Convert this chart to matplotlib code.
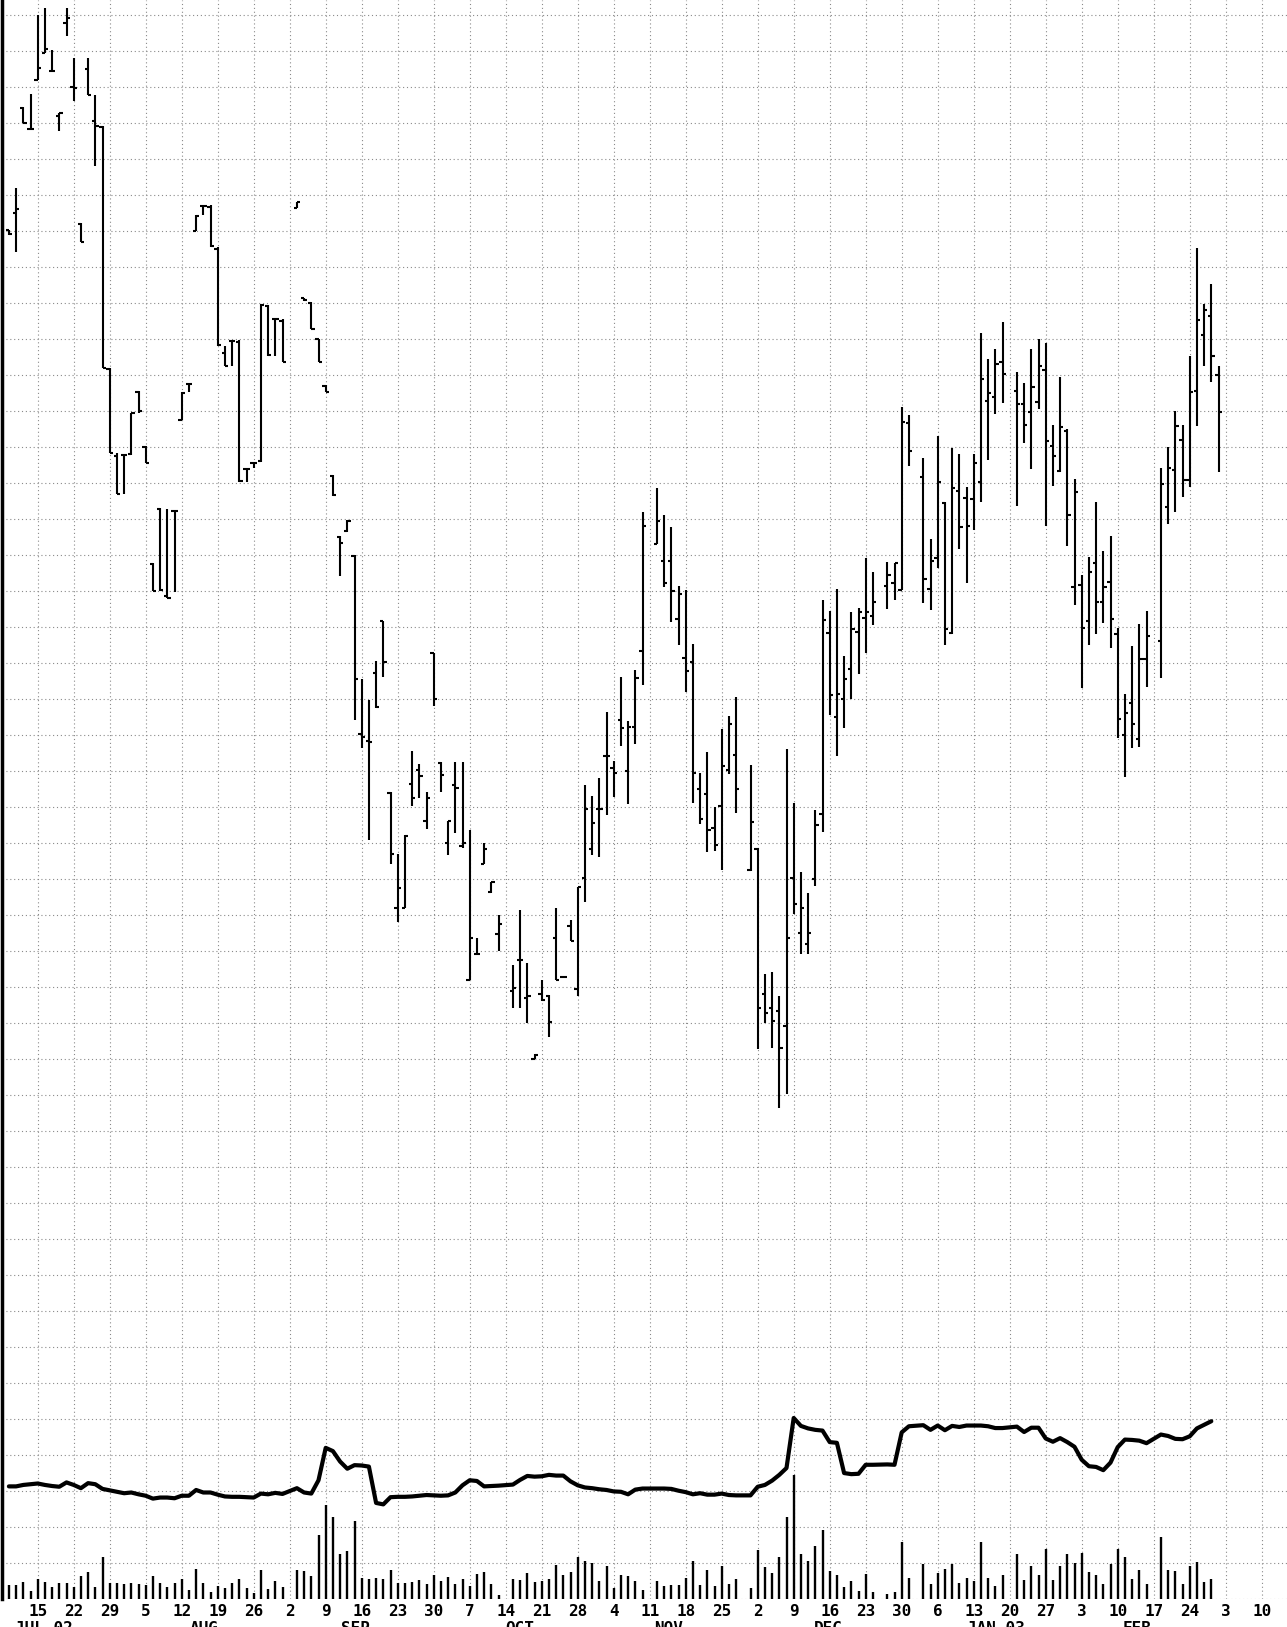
import numpy as np
import matplotlib
matplotlib.use('Agg')
import matplotlib.pyplot as plt

# daily bars, one slot per trading day from Tue 9 Jul 2002: (open, high, low, close)
# None = exchange holiday (no bar)
bars = [
    (38.02, 38.03, 37.89, 37.90), (38.49, 39.19, 37.41, 38.60), (41.40, 41.45, 40.99, 41.00),
    (40.83, 41.80, 40.80, 40.82), (42.20, 44.00, 42.19, 42.52), (42.95, 44.19, 42.94, 43.05),
    (42.45, 43.03, 42.44, 42.45), (41.20, 41.27, 40.78, 41.27), (43.77, 44.19, 43.42, 43.90),
    (41.99, 42.80, 41.59, 41.97), (38.20, 38.21, 37.68, 37.70), (42.49, 42.80, 41.76, 41.77),
    (41.06, 41.76, 39.81, 40.90), (40.88, 40.90, 34.20, 34.20), (34.15, 34.20, 31.82, 31.83),
    (31.75, 31.82, 30.69, 30.70), (31.76, 31.78, 30.69, 31.76), (31.80, 32.94, 31.78, 32.93),
    (33.52, 33.54, 32.94, 33.00), (32.00, 32.01, 31.55, 31.56), (28.75, 28.77, 27.99, 28.00),
    (30.27, 30.29, 28.00, 28.02), (27.85, 30.26, 27.79, 27.80), (30.22, 30.24, 27.97, 30.22),
    (32.75, 33.53, 32.74, 33.50), (33.75, 33.76, 33.53, 33.75), (38.00, 38.44, 37.99, 38.42),
    (38.70, 38.71, 38.44, 38.70), (38.65, 38.71, 37.56, 37.57), (37.50, 37.56, 34.81, 34.83),
    (34.60, 34.81, 34.24, 34.25), (34.95, 34.96, 34.24, 34.93), (34.90, 34.96, 31.03, 31.05),
    (31.38, 31.40, 31.03, 31.38), (31.56, 31.58, 31.40, 31.56), (31.60, 35.96, 31.58, 35.94),
    (35.90, 35.94, 34.52, 34.54), (35.55, 35.57, 34.52, 35.55), (35.50, 35.54, 34.34, 34.36),
    None,
    (38.63, 38.81, 38.62, 38.80), (36.12, 36.12, 36.06, 36.07), (36.00, 36.03, 35.27, 35.28),
    (34.98, 34.99, 34.34, 34.35), (33.70, 33.71, 33.51, 33.52), (31.20, 31.21, 30.63, 30.65),
    (29.50, 29.52, 28.41, 29.33), (29.65, 29.96, 29.64, 29.95), (28.97, 28.99, 24.41, 25.55),
    (24.01, 25.55, 23.63, 23.95), (23.83, 24.97, 21.08, 23.81), (25.72, 26.04, 24.74, 24.76),
    (27.15, 27.17, 25.60, 26.01), (22.38, 22.40, 20.40, 20.68), (19.18, 20.70, 18.80, 19.74),
    (19.20, 21.21, 19.18, 21.19), (22.64, 23.55, 22.03, 22.24), (23.03, 23.18, 22.24, 22.84),
    (21.59, 22.42, 21.39, 22.24), (26.26, 26.28, 24.81, 25.00), (23.21, 23.23, 22.40, 22.87),
    (21.00, 21.61, 20.65, 21.59), (22.60, 23.25, 21.26, 22.52), (20.90, 23.25, 20.85, 20.98),
    (17.20, 21.36, 17.18, 18.36), (17.90, 18.36, 17.89, 17.90), (20.42, 20.98, 20.40, 20.82),
    (19.62, 19.91, 19.61, 19.90), (18.46, 19.00, 17.99, 18.75),
    None,
    (16.89, 17.59, 16.40, 16.96), (17.75, 19.13, 16.40, 17.75), (16.69, 17.67, 16.00, 16.73),
    (15.00, 15.12, 15.00, 15.10), (16.81, 17.18, 16.61, 16.62), (16.74, 16.76, 15.60, 16.03),
    (18.36, 19.18, 17.18, 17.20), (17.28, 17.30, 17.24, 17.27), (18.69, 18.84, 18.26, 18.27),
    (16.93, 19.78, 16.73, 19.76), (20.01, 22.61, 19.35, 21.94), (20.82, 22.30, 20.65, 21.54),
    (21.94, 22.80, 20.61, 21.94), (23.42, 24.63, 21.77, 23.40), (23.07, 23.28, 22.26, 22.93),
    (24.42, 25.61, 23.70, 24.19), (22.99, 24.39, 22.07, 24.22), (24.22, 25.80, 23.74, 25.58),
    (26.33, 30.18, 25.37, 29.79),
    None,
    (29.30, 30.85, 29.29, 29.95), (28.83, 30.10, 28.11, 28.22), (28.83, 29.78, 27.14, 27.99),
    (27.22, 28.14, 26.50, 27.91), (26.12, 28.01, 25.20, 25.78), (26.01, 26.53, 22.09, 22.93),
    (22.49, 22.93, 21.51, 21.65), (22.34, 23.53, 20.74, 21.34), (21.40, 22.00, 20.76, 20.94),
    (22.01, 24.16, 20.25, 23.13), (23.01, 24.51, 22.90, 24.31), (23.45, 25.05, 21.82, 22.49),
    None,
    (20.23, 23.16, 20.21, 21.57), (20.82, 20.86, 15.27, 16.41), (16.81, 17.36, 16.00, 16.27),
    (16.41, 17.40, 15.29, 16.04), (16.33, 16.75, 13.62, 15.29), (15.90, 23.61, 14.02, 18.34),
    (20.01, 22.09, 19.01, 19.30), (18.50, 20.20, 17.90, 19.20), (18.20, 19.60, 17.90, 18.50),
    (20.00, 21.90, 19.80, 21.50), (21.80, 27.73, 21.30, 27.18), (26.83, 27.45, 24.56, 25.09),
    (24.50, 28.06, 23.40, 25.14), (25.00, 26.20, 24.20, 25.56), (25.83, 27.41, 25.00, 26.94),
    (26.85, 27.53, 25.70, 27.42), (27.25, 28.90, 26.26, 27.42), (27.30, 28.53, 27.06, 27.69),
    None,
    (28.13, 28.81, 27.50, 28.45), (28.22, 28.78, 27.74, 28.76), (28.03, 33.11, 28.01, 32.69),
    (32.65, 32.88, 31.46, 31.88),
    None,
    (31.17, 31.68, 27.67, 28.33), (28.06, 29.43, 27.46, 28.82), (28.92, 32.30, 28.64, 31.02),
    (30.45, 30.47, 26.49, 26.94), (26.83, 31.97, 26.81, 30.86), (30.77, 31.79, 29.15, 29.78),
    (30.57, 30.89, 28.22, 29.81), (30.56, 31.81, 29.70, 31.54), (31.02, 35.15, 30.46, 33.87),
    (33.27, 34.44, 31.62, 33.50), (33.39, 34.72, 32.90, 34.31), (34.35, 35.46, 33.22, 34.01),
    None,
    (33.56, 34.07, 30.36, 33.20), (33.20, 33.76, 32.09, 32.60), (32.96, 34.72, 31.37, 33.65),
    (33.24, 35.00, 33.06, 34.24), (34.12, 34.89, 29.81, 32.16), (32.01, 32.59, 30.90, 31.75),
    (31.33, 33.95, 31.31, 32.54), (32.45, 32.50, 29.24, 30.09), (28.10, 31.11, 27.61, 30.73),
    (28.17, 28.45, 25.29, 26.96), (27.16, 28.94, 26.48, 28.53), (28.77, 30.46, 26.81, 27.70),
    (27.70, 29.11, 27.09, 28.10), (28.25, 29.51, 26.41, 27.21), (26.81, 26.96, 23.91, 24.45),
    (24.00, 25.14, 22.82, 24.61), (24.88, 26.46, 23.62, 24.29), (23.89, 27.08, 23.66, 26.09),
    (26.09, 27.43, 25.32, 26.74),
    None,
    (26.59, 31.40, 25.57, 30.96), (30.33, 31.99, 29.84, 31.40), (31.36, 32.98, 30.19, 32.57),
    (32.19, 32.59, 30.60, 31.08), (31.08, 34.53, 30.88, 33.53), (33.56, 37.53, 32.57, 35.52),
    (35.09, 35.96, 34.23, 35.80), (35.64, 36.51, 33.81, 34.53), (34.00, 34.23, 31.31, 32.96),
]

# volume and open interest on the same slots (one day shorter than the bars)
volume = [
    0.37, 0.37, 0.47, 0.21, 0.55, 0.47, 0.33, 0.43, 0.43, 0.33, 0.64, 0.73, 0.33, 1.15, 0.45,
    0.45, 0.40, 0.45, 0.40, 0.38, 0.64, 0.43, 0.32, 0.44, 0.56, 0.24, 0.83, 0.45, 0.19, 0.35,
    0.31, 0.44, 0.54, 0.30, 0.16, 0.79, 0.26, 0.49, 0.33, None, 0.79, 0.76, 0.62, 1.76, 2.60,
    2.27, 1.24, 1.32, 2.16, 0.57, 0.54, 0.58, 0.56, 0.81, 0.45,
    0.45, 0.46, 0.52, 0.40, 0.66, 0.50, 0.60, 0.41, 0.55, 0.34, 0.69, 0.73, 0.41, 0.10, None,
    0.55, 0.52, 0.71, 0.46, 0.48, 0.55, 0.94, 0.66, 0.75, 1.15, 1.05, 1.00, 0.48, 0.92, 0.29,
    0.66, 0.62, 0.48, 0.24, None, 0.50, 0.34, 0.38, 0.38, 0.57, 1.05,
    0.38, 0.79, 0.34, 0.92, 0.41, 0.54, None, 0.30, 1.36, 0.89, 0.71, 1.16, 2.27, 3.44, 1.24,
    1.06, 1.47, 1.91, 0.77, 0.67, 0.33, 0.48, 0.22, 0.69, 0.18, None, 0.14, 0.20, 1.57, 0.58,
    None, 0.97, 0.42, 0.71, 0.83, 0.97, 0.45, 0.58, 0.48, 1.58, 0.58, 0.36, 0.65, None, 1.24,
    0.52, 0.90, 0.65, 1.39, 0.52, 0.90, 1.24, 0.98, 1.27, 0.74, 0.65, 0.41, 0.97, 1.37, 1.15,
    0.56, 0.80, 0.41, None, 1.71, 0.81, 0.77, 0.40, 0.90, 1.03, 0.46, 0.54,
]
oi = [
    3.12, 3.12, 3.16, 3.18, 3.20, 3.16, 3.13, 3.11, 3.23, 3.16, 3.07, 3.21, 3.18, 3.05, 3.01,
    2.97, 2.93, 2.95, 2.90, 2.86, 2.78, 2.81, 2.81, 2.79, 2.86, 2.86, 3.02, 2.95, 2.95, 2.89,
    2.84, 2.83, 2.83, 2.82, 2.81, 2.92, 2.90, 2.94, 2.91, None, 3.07, 2.95, 2.92, 3.29, 4.19,
    4.10, 3.81, 3.61, 3.71, 3.70, 3.67, 2.66, 2.62, 2.82, 2.83,
    2.83, 2.84, 2.86, 2.88, 2.87, 2.86, 2.87, 2.95, 3.15, 3.29, 3.27, 3.12, 3.13, 3.14, None,
    3.17, 3.30, 3.41, 3.39, 3.40, 3.44, 3.42, 3.42, 3.26, 3.15, 3.09, 3.07, 3.04, 3.02, 2.98,
    2.97, 2.90, 3.03, 3.06, None, 3.06, 3.06, 3.05, 3.00, 2.96, 2.90,
    2.93, 2.89, 2.89, 2.92, 2.88, 2.87, None, 2.87, 3.11, 3.16, 3.28, 3.44, 3.63, 5.02, 4.80,
    4.73, 4.69, 4.67, 4.35, 4.33, 3.49, 3.46, 3.47, 3.72, 3.72, None, 3.73, 3.72, 4.62, 4.79,
    None, 4.82, 4.69, 4.81, 4.68, 4.80, 4.77, 4.81, 4.81, 4.81, 4.79, 4.74, 4.74, None, 4.78,
    4.63, 4.75, 4.75, 4.45, 4.36, 4.46, 4.35, 4.22, 3.86, 3.68, 3.66, 3.57, 3.78, 4.21, 4.42,
    4.41, 4.39, 4.32, None, 4.56, 4.52, 4.44, 4.43, 4.51, 4.73, 4.83, 4.93,
]

# week labels sit on the Monday slot of each week
weeks = ['15', '22', '29', '5', '12', '19', '26', '2', '9', '16', '23', '30', '7', '14', '21',
         '28', '4', '11', '18', '25', '2', '9', '16', '23', '30', '6', '13', '20', '27', '3',
         '10', '17', '24', '3', '10']
months = [('JUL 02', 44), ('AUG', 204), ('SEP', 355), ('OCT', 520), ('NOV', 669),
          ('DEC', 828), ('JAN 03', 996), ('FEB', 1137)]

W, H = 1287, 1627
fig = plt.figure(figsize=(W / 100, H / 100), dpi=100)
ax = fig.add_axes([1.5 / W, (H - 1598.7) / H, (W - 1.5) / W, 1598.7 / H])

idx = [i for i, b in enumerate(bars) if b is not None]
o = np.array([bars[i][0] for i in idx])
hi = np.array([bars[i][1] for i in idx])
lo = np.array([bars[i][2] for i in idx])
c = np.array([bars[i][3] for i in idx])
xb = np.array(idx, dtype=float)

ax.vlines(xb, lo, hi, color='black', lw=1.5, zorder=3)
ax.hlines(o, xb - 0.45, xb, color='black', lw=1.5, zorder=3)
ax.hlines(c, xb, xb + 0.45, color='black', lw=1.5, zorder=3)

xv = [i for i, v in enumerate(volume) if v is not None]
ax.vlines(xv, 0, [volume[i] for i in xv], color='black', lw=1.7, zorder=3)

xo = [i for i, v in enumerate(oi) if v is not None]
ax.plot(xo, [oi[i] for i in xo], color='black', lw=3.0, solid_joinstyle='round',
        solid_capstyle='round', zorder=4)

ax.set_xlim((1.5 - 8.9) / 7.2, (W - 8.9) / 7.2)
ax.set_ylim(0, 1598.7 / 36)
ax.set_xticks([4 + 5 * k for k in range(len(weeks))])
ax.set_xticklabels(weeks, fontfamily='DejaVu Sans Mono', fontweight='bold', fontsize=11.5)
ax.set_yticks(range(0, 45))
ax.tick_params(axis='x', length=0, pad=4)
ax.tick_params(axis='y', length=0, labelleft=False)
ax.grid(True, color='#8a8a8a', lw=0.8, linestyle=(0, (1, 2.5)), zorder=0)
ax.set_axisbelow(True)
for s in ['top', 'right', 'bottom']:
    ax.spines[s].set_visible(False)
ax.spines['left'].set_linewidth(2.5)

for name, xp in months:
    fig.text(xp / W, 1 - 1621 / H, name, ha='center', va='top',
             fontfamily='DejaVu Sans Mono', fontweight='bold', fontsize=11.5)

fig.savefig('out.png', dpi=100)
